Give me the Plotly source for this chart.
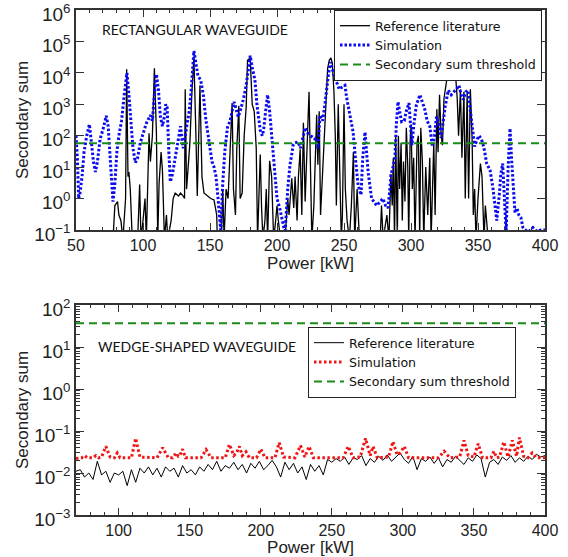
import plotly.graph_objects as go
from plotly.subplots import make_subplots

# ---------------- data: rectangular waveguide (top) ----------------
rect_ref_points = [
    (76, 0.03), (78, 0.1), (79, 0.6), (81, 0.8), (82, 0.3), (83.5, 0.2), (85, 0.05), (86, 0.3),
    (87, 1), (87.8, 13000), (88.8, 5), (89.5, 7), (90.5, 2), (92, 0.05), (96, 0.05), (97.5, 2.8),
    (98.5, 0.05), (100, 0.2), (101.5, 1), (102.5, 0.05), (104.5, 120), (105.5, 15), (107, 100),
    (108.5, 14000), (110, 130), (111, 0.05), (112, 3), (113.5, 30), (114.5, 8), (116, 0.05),
    (117.5, 0.3), (118.5, 0.05), (121, 0.2), (122.5, 1), (124, 1.5), (126.5, 1.2), (128, 1.5),
    (130, 1.2), (131, 1), (131.5, 3000), (132.5, 2), (134, 15), (135, 60), (136.5, 2500),
    (138, 30000), (139.5, 100), (140.5, 1.2), (142.5, 4000), (144, 5), (145.5, 1.5), (148, 1.2),
    (150.5, 1), (153, 0.9), (155, 0.3), (155.5, 0.05), (158.5, 0.05), (159.5, 2), (160.5, 0.05),
    (162, 2), (163.5, 1), (166.5, 1100), (167.5, 2), (169, 0.3), (170, 40), (171.5, 900),
    (172.5, 1), (174, 1.5), (175.5, 100), (177, 800), (178, 25000), (180, 30000), (181.5, 1000),
    (183, 600), (184.5, 40), (185.5, 0.05), (186.5, 1), (187.5, 25), (188.5, 0.5), (189.5, 0.05),
    (191, 0.2), (192, 2), (193, 0.05), (194.5, 16), (196, 5), (197.5, 0.05), (199, 0.2),
    (200, 0.6), (201, 0.2), (202.6, 0.05), (206, 0.05), (208, 1), (209, 0.3), (211, 4.4),
    (212.5, 0.5), (213.5, 5), (215, 0.2), (216, 5), (217.3, 37), (218.5, 0.3), (219.7, 260),
    (221, 0.8), (223.9, 2500), (225, 2), (226, 0.05), (227.5, 0.6), (229.6, 460), (230.5, 12),
    (231.5, 600), (232.5, 0.3), (234.6, 30), (236, 500), (237.8, 14000), (239, 25000),
    (240.3, 30000), (241.3, 20000), (242.5, 2500), (243.5, 100), (244.3, 0.6), (245.7, 1000),
    (246.8, 5), (248, 0.05), (248.8, 0.3), (250, 1000), (251, 2), (252.3, 0.2), (254, 0.05),
    (255.5, 0.6), (257, 30), (258, 0.05), (259.8, 2), (261.5, 0.05), (277, 0.05), (278, 0.6),
    (279.2, 0.05), (282, 0.3), (283.5, 0.05), (285, 6), (286, 0.6), (286.8, 20), (287.7, 0.05),
    (288.6, 100), (289.8, 0.05), (290.6, 100), (291.5, 2), (292.6, 60), (293.5, 0.2),
    (294.4, 15), (295.5, 0.8), (296.5, 180), (297.6, 10), (298.3, 0.05), (299.3, 60),
    (300.1, 230), (301, 2), (302, 20), (303, 0.05), (304.5, 60), (305.5, 100), (306.5, 0.05),
    (307.3, 180), (308.5, 15), (309.5, 0.05), (311, 10), (312.5, 0.3), (314, 20), (315, 0.05),
    (316, 5), (317, 60), (318, 0.3), (319.3, 700), (320.2, 30), (321.3, 2000), (322.5, 100),
    (323.5, 50), (324.6, 1500), (326, 5000), (327.1, 8000), (333.3, 8000), (334.5, 1500),
    (335.5, 100), (336.9, 3000), (338, 20), (339.5, 2500), (340.5, 1), (341.9, 2500), (343, 1),
    (344.3, 3000), (345.6, 80), (346.5, 0.3), (347.5, 2), (348.5, 0.05), (350, 1), (351.8, 13),
    (353, 5), (354.5, 0.05), (355.5, 0.6), (357, 0.05), (358, 0.03),
]

rect_sim_points = [
    (50, 100), (51, 20), (52, 1), (53, 1.5), (54.5, 5), (56, 30), (58, 100), (60, 230),
    (61.5, 60), (63, 15), (64.5, 7), (66, 15), (68, 80), (70, 150), (72.6, 430), (74, 200),
    (75.5, 20), (77.6, 0.8), (79, 3), (80.5, 30), (82, 100), (84, 300), (86, 2000), (88, 10000),
    (89.5, 2000), (91, 200), (92.5, 40), (94.3, 14), (96, 20), (98, 60), (100, 120), (102.5, 250),
    (105.5, 450), (107, 300), (108.5, 2000), (110, 9000), (111.5, 3000), (113, 400), (114.5, 200),
    (116, 400), (117, 1000), (118, 800), (119.3, 30), (120.4, 3.4), (122, 6), (124, 20), (126, 60),
    (128, 200), (129, 80), (130, 40), (131.5, 100), (133, 300), (134.5, 600), (136, 3000),
    (138, 50000), (139.5, 20000), (141, 8000), (143, 6000), (145, 2000), (147, 300), (148.5, 100),
    (150, 40), (151.5, 15), (153, 10), (154.5, 5), (156, 1), (158, 0.1), (159.5, 3), (161, 30),
    (163, 180), (165, 300), (166.5, 600), (168, 1200), (169.5, 700), (171, 400), (172.5, 600),
    (175, 1500), (177, 4000), (178.5, 10000), (180, 35000), (181.5, 15000), (183.5, 6000),
    (185, 1000), (186.5, 300), (187.5, 150), (189, 100), (190, 150), (191.5, 600), (193, 2000),
    (194.5, 600), (196, 100), (198, 10), (200, 1), (202, 0.5), (204, 0.2), (206, 0.08), (208, 2),
    (209.7, 12), (211, 25), (212, 50), (213.5, 60), (215.7, 63), (217.5, 40), (219, 80),
    (221, 180), (223, 120), (225, 100), (226.5, 90), (228, 85), (230.6, 40), (232, 450),
    (234, 300), (235.5, 800), (237, 3300), (238.5, 10000), (240, 22000), (241.5, 12000),
    (243, 7000), (244.5, 5000), (246.5, 3000), (248.5, 3500), (250.7, 4000), (252, 1600),
    (254, 600), (256.8, 130), (258.5, 20), (260.5, 2.7), (262.7, 1.3), (264, 20), (265.7, 130),
    (267, 30), (268, 7), (270.6, 1), (272.5, 0.8), (274.4, 0.6), (277, 0.8), (279, 1), (281, 0.6),
    (282.8, 0.5), (284, 1.5), (285, 5.6), (286.5, 10), (288, 20), (289, 200), (290.3, 1200),
    (291.5, 600), (293, 280), (295, 300), (296.5, 600), (298.5, 1100), (300.7, 50), (302, 200),
    (304, 950), (306.7, 2000), (308.5, 1200), (310.4, 660), (312, 300), (314, 200), (316, 45),
    (317.5, 100), (319, 400), (321, 200), (322.5, 85), (324, 300), (325.4, 800), (327.8, 2800),
    (330, 2000), (332, 2500), (334, 3000), (335.8, 4000), (337.5, 2000), (339, 1400),
    (341, 2500), (342.5, 2800), (344, 800), (346, 120), (347.5, 45), (349, 70), (350.7, 100),
    (352.5, 80), (354.5, 40), (356.5, 13), (359, 8), (361, 2.4), (362.5, 0.8), (364, 0.2),
    (366, 1.5), (367, 6), (368.4, 13), (369.5, 1), (371, 0.08), (372.5, 10), (373.9, 170),
    (375, 20), (376.5, 2), (377.6, 0.35), (379, 0.5), (380.5, 0.3), (382, 0.25), (383.5, 0.12),
    (385, 0.1), (388, 0.09), (391, 0.12), (394, 0.09), (397, 0.1), (400, 0.1),
]
rect_threshold = 57
rect_x_range = [50, 400]

# ---------------- data: wedge-shaped waveguide (bottom) ----------------
wedge_ref_x = list(range(70, 401, 3))
wedge_ref_y = [
    0.011, 0.012, 0.008, 0.010, 0.007, 0.019, 0.009, 0.011, 0.006, 0.010, 0.009,
    0.011, 0.005, 0.012, 0.006, 0.013, 0.010, 0.014, 0.009, 0.013, 0.008,
    0.014, 0.011, 0.013, 0.008, 0.015, 0.010, 0.012, 0.009, 0.014, 0.011,
    0.016, 0.012, 0.019, 0.011, 0.015, 0.013, 0.018, 0.012, 0.016, 0.010,
    0.017, 0.013, 0.019, 0.012, 0.015, 0.020, 0.014, 0.008, 0.018, 0.012,
    0.017, 0.010, 0.014, 0.007, 0.016, 0.011, 0.015, 0.009, 0.021, 0.018,
    0.022, 0.019, 0.024, 0.016, 0.023, 0.021, 0.026, 0.015, 0.022, 0.018,
    0.025, 0.020, 0.027, 0.019, 0.024, 0.030, 0.021, 0.017, 0.025, 0.012,
    0.022, 0.019, 0.024, 0.017, 0.023, 0.014, 0.021, 0.018, 0.025, 0.020,
    0.016, 0.023, 0.019, 0.027, 0.022, 0.008, 0.018, 0.021, 0.016, 0.024,
    0.020, 0.026, 0.018, 0.023, 0.019, 0.025, 0.021, 0.028, 0.024, 0.026,
]
wedge_sim_points = [
    (70, 0.022), (74, 0.023), (76, 0.026), (78, 0.023), (82, 0.023), (84, 0.026), (86, 0.023),
    (88, 0.024), (91, 0.043), (94, 0.024), (97, 0.023), (99, 0.030), (101, 0.023), (109, 0.023),
    (112, 0.067), (115, 0.024), (127, 0.023), (131, 0.040), (135, 0.023), (138, 0.023),
    (140.5, 0.030), (142, 0.025), (143, 0.026), (145, 0.037), (147, 0.023), (158, 0.023),
    (161.5, 0.036), (165, 0.023), (175, 0.023), (178, 0.048), (181, 0.026), (183, 0.030),
    (185, 0.043), (187, 0.026), (189.6, 0.032), (192, 0.023), (197, 0.023), (200, 0.037),
    (203, 0.023), (210, 0.023), (213, 0.053), (216, 0.024), (224, 0.023), (228, 0.045),
    (231, 0.024), (234, 0.043), (237, 0.023), (258, 0.023), (261.6, 0.043), (265, 0.023),
    (270, 0.024), (273.7, 0.067), (277, 0.026), (279, 0.043), (282, 0.023), (290, 0.024),
    (293, 0.056), (296, 0.027), (298, 0.030), (301, 0.043), (304, 0.023), (325, 0.023),
    (329, 0.033), (333, 0.023), (340, 0.024), (343, 0.060), (346, 0.026), (350, 0.024),
    (353, 0.050), (356, 0.023), (362, 0.023), (364, 0.033), (366, 0.023), (368, 0.024),
    (371, 0.055), (374, 0.024), (377, 0.060), (380, 0.025), (382, 0.070), (385, 0.025),
    (388, 0.023), (391, 0.030), (394, 0.023), (400, 0.023),
]
wedge_threshold = 37
wedge_x_range = [70, 400]

# ---------------- ticks ----------------
rect_xticks = [50, 100, 150, 200, 250, 300, 350, 400]
wedge_xticks = [100, 150, 200, 250, 300, 350, 400]
rect_yticks = [1e-1, 1e0, 1e1, 1e2, 1e3, 1e4, 1e5, 1e6]
rect_ytext = ["10<sup>\u22121</sup>", "10<sup>0</sup>", "10<sup>1</sup>", "10<sup>2</sup>",
              "10<sup>3</sup>", "10<sup>4</sup>", "10<sup>5</sup>", "10<sup>6</sup>"]
wedge_yticks = [1e-3, 1e-2, 1e-1, 1e0, 1e1, 1e2]
wedge_ytext = ["10<sup>\u22123</sup>", "10<sup>\u22122</sup>", "10<sup>\u22121</sup>",
               "10<sup>0</sup>", "10<sup>1</sup>", "10<sup>2</sup>"]

FONT = "Liberation Sans"
AX = "#333333"
BLUE = "#0b0bf0"
RED = "#f01414"
GREEN = "#1a8c1a"

fig = make_subplots(rows=2, cols=1)

rx, ry = zip(*rect_ref_points)
sx, sy = zip(*rect_sim_points)
fig.add_trace(go.Scatter(x=rx, y=ry, mode="lines", name="Reference literature",
                         line=dict(color="black", width=1.3), legend="legend"), row=1, col=1)
fig.add_trace(go.Scatter(x=sx, y=sy, mode="lines", name="Simulation",
                         line=dict(color=BLUE, width=3, dash="2.5px,2px"), legend="legend"), row=1, col=1)
fig.add_trace(go.Scatter(x=rect_x_range, y=[rect_threshold, rect_threshold], mode="lines",
                         name="Secondary sum threshold",
                         line=dict(color=GREEN, width=2, dash="8px,5px"), legend="legend"), row=1, col=1)

wx, wy = zip(*wedge_sim_points)
fig.add_trace(go.Scatter(x=wedge_ref_x, y=wedge_ref_y, mode="lines", name="Reference literature",
                         line=dict(color="black", width=1), legend="legend2"), row=2, col=1)
fig.add_trace(go.Scatter(x=wx, y=wy, mode="lines", name="Simulation",
                         line=dict(color=RED, width=3, dash="2.5px,2.5px"), legend="legend2"), row=2, col=1)
fig.add_trace(go.Scatter(x=wedge_x_range, y=[wedge_threshold, wedge_threshold], mode="lines",
                         name="Secondary sum threshold",
                         line=dict(color=GREEN, width=2, dash="8px,5px"), legend="legend2"), row=2, col=1)

common = dict(showline=True, linecolor=AX, linewidth=1.5, mirror="allticks", ticks="inside",
              tickcolor=AX, tickwidth=1.2, showgrid=False, zeroline=False, automargin=False,
              ticklabeloverflow="allow")
xtick_font = dict(family=FONT, size=16, color="#222")
ytick_font = dict(family=FONT, size=19, color="#222")
title_font = dict(family=FONT, size=17, color="#222")

fig.update_xaxes(common, range=rect_x_range, tickmode="array", tickvals=rect_xticks, ticklen=7,
                 tickfont=xtick_font,
                 minor=dict(tickmode="linear", tick0=50, dtick=10, ticks="inside", ticklen=3,
                            tickcolor=AX, showgrid=False),
                 title=dict(text="Power [kW]", font=title_font, standoff=3), row=1, col=1)
fig.update_xaxes(common, range=wedge_x_range, tickmode="array", tickvals=wedge_xticks, ticklen=7,
                 tickfont=xtick_font,
                 minor=dict(tickmode="linear", tick0=70, dtick=10, ticks="inside", ticklen=3,
                            tickcolor=AX, showgrid=False),
                 title=dict(text="Power [kW]", font=title_font, standoff=3), row=2, col=1)
fig.update_yaxes(common, type="log", range=[-1, 6], tickmode="array", tickvals=rect_yticks,
                 ticktext=rect_ytext, ticklen=8, domain=[0.5644, 1.0], tickfont=ytick_font,
                 ticklabelshift=4,
                 title=dict(text="Secondary sum", font=title_font, standoff=1), row=1, col=1)
fig.update_yaxes(common, type="log", range=[-3, 2], tickmode="array", tickvals=wedge_yticks,
                 ticktext=wedge_ytext, ticklen=8, domain=[0.0, 0.4158], tickfont=ytick_font,
                 ticklabelshift=4,
                 minor=dict(ticks="inside", ticklen=4, dtick="D1", tickcolor=AX, showgrid=False),
                 title=dict(text="Secondary sum", font=title_font, standoff=1), row=2, col=1)

legend_common = dict(bgcolor="white", bordercolor="#222", borderwidth=1,
                     font=dict(family="DejaVu Sans", size=12.6, color="#111"),
                     xanchor="left", yanchor="top", tracegroupgap=0, itemwidth=30)
fig.update_layout(
    width=568, height=557,
    margin=dict(l=76, r=23, t=10, b=42, autoexpand=False),
    plot_bgcolor="white", paper_bgcolor="white",
    showlegend=True,
    legend=dict(legend_common, x=0.5501, y=1.0),
    legend2=dict(legend_common, x=0.4947, y=0.3723),
    annotations=[
        dict(text="RECTANGULAR WAVEGUIDE", xref="paper", yref="paper", x=0.0512, y=0.9604,
             xanchor="left", yanchor="middle", showarrow=False,
             font=dict(family="Lato", size=14, color="#111")),
        dict(text="WEDGE-SHAPED WAVEGUIDE", xref="paper", yref="paper", x=0.0426, y=0.3327,
             xanchor="left", yanchor="middle", showarrow=False,
             font=dict(family="Lato", size=14, color="#111")),
    ],
)

fig.write_html("out.html", config={"displayModeBar": False},
               post_script="document.body.style.margin='0px';")
